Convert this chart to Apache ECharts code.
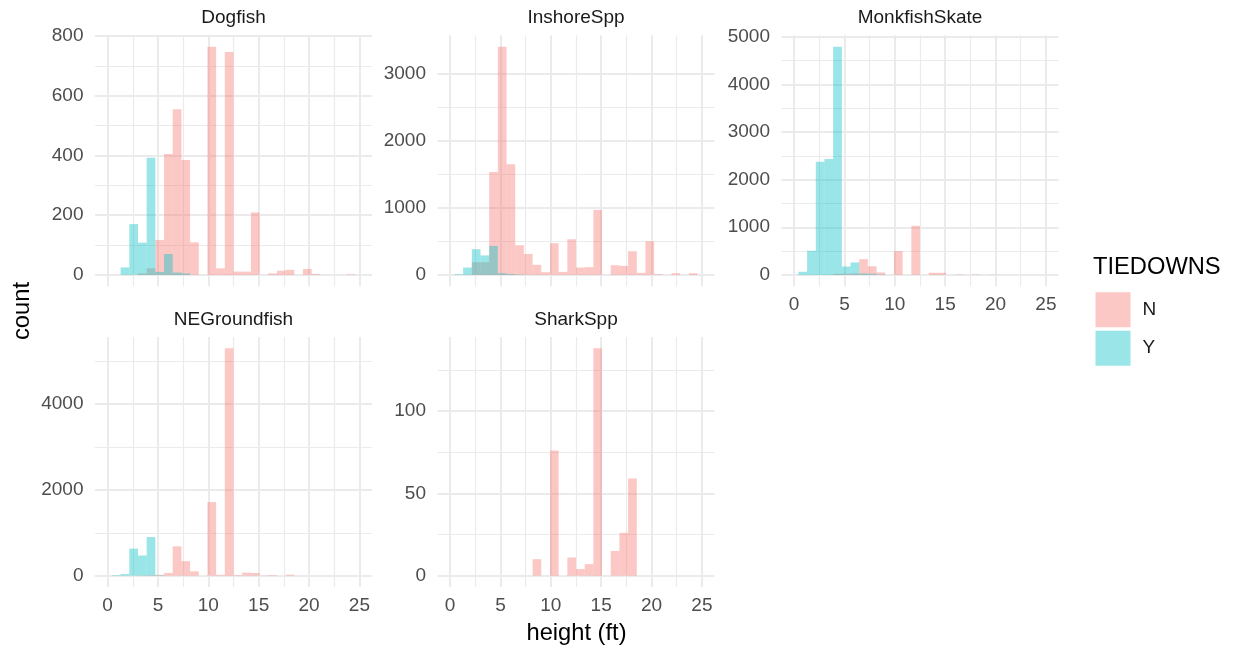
<!DOCTYPE html>
<html>
<head>
<meta charset="utf-8">
<script src="https://cdn.jsdelivr.net/npm/echarts@6.0.0/dist/echarts.min.js"></script>
<style>
  html, body { margin: 0; background: #fff; }
  #chart { width: 1238px; height: 654px; }
</style>
</head>
<body>
<div id="chart"></div>
<script>
// histogram bins: 30 bins over 0..25, first and last dropped by the x limits
const binWidth = 25 / 29;
const bins = [1, 2, 3, 4, 5, 6, 7, 8, 9, 10, 11, 12, 13, 14, 15, 16, 17, 18, 19, 20, 21, 22, 23, 24, 25, 26, 27, 28];

const panelNames = ['Dogfish', 'InshoreSpp', 'MonkfishSkate', 'NEGroundfish', 'SharkSpp'];

// counts per bin, TIEDOWNS = N / Y
const dogfishN = [0, 0, 0, 5, 22, 117, 405, 555, 385, 109, 0, 764, 22, 746, 11, 11, 209, 0, 5, 14, 17, 0, 20, 3, 0, 0, 0, 2];
const dogfishY = [0, 25, 170, 108, 392, 10, 70, 8, 5, 0, 0, 0, 0, 0, 0, 0, 0, 0, 0, 0, 0, 0, 0, 0, 0, 0, 0, 0];
const inshoreN = [0, 0, 188, 188, 1532, 3396, 1646, 441, 312, 150, 40, 471, 45, 530, 109, 115, 967, 0, 144, 134, 352, 30, 500, 10, 0, 25, 0, 25];
const inshoreY = [10, 109, 382, 290, 431, 25, 12, 5, 0, 0, 0, 0, 0, 0, 0, 0, 0, 0, 0, 0, 0, 0, 0, 0, 0, 0, 0, 0];
const monkfishN = [0, 0, 0, 0, 20, 25, 30, 330, 182, 52, 0, 500, 0, 1031, 0, 45, 45, 0, 8, 0, 8, 0, 5, 0, 0, 0, 0, 0];
const monkfishY = [66, 508, 2377, 2433, 4790, 176, 262, 30, 25, 5, 0, 0, 0, 0, 0, 0, 0, 0, 0, 0, 0, 0, 0, 0, 0, 0, 0, 0];
const groundfishN = [0, 0, 0, 5, 10, 20, 60, 684, 338, 100, 0, 1715, 20, 5300, 15, 70, 62, 5, 15, 0, 23, 0, 0, 0, 0, 0, 0, 0];
const groundfishY = [15, 38, 630, 469, 900, 10, 0, 0, 0, 0, 0, 0, 0, 0, 0, 0, 0, 0, 0, 0, 0, 0, 0, 0, 0, 0, 0, 0];
const sharkN = [0, 0, 0, 0, 0, 0, 0, 0, 0, 10, 0, 76, 0, 11, 4, 7, 138, 0, 15, 26, 59, 0, 0, 0, 0, 0, 0, 0];
const sharkY = [0, 0, 0, 0, 0, 0, 0, 0, 0, 0, 0, 0, 0, 0, 0, 0, 0, 0, 0, 0, 0, 0, 0, 0, 0, 0, 0, 0];

// tick labels
const xMajorTicks = [0, 5, 10, 15, 20, 25];
const xMinorTicks = [2.5, 7.5, 12.5, 17.5, 22.5];
const yMajorTicks = [
  [0, 200, 400, 600, 800],
  [0, 1000, 2000, 3000],
  [0, 1000, 2000, 3000, 4000, 5000],
  [0, 2000, 4000],
  [0, 50, 100]
];
const yMinorTicks = [
  [100, 300, 500, 700],
  [500, 1500, 2500],
  [500, 1500, 2500, 3500, 4500],
  [1000, 3000, 5000],
  [25, 75, 125]
];

const countsN = [dogfishN, inshoreN, monkfishN, groundfishN, sharkN];
const countsY = [dogfishY, inshoreY, monkfishY, groundfishY, sharkY];

// layout
const FONT = '"Liberation Sans", Arial, Helvetica, sans-serif';
const colN = 'rgba(248,118,109,0.4)';
const colY = 'rgba(0,191,196,0.4)';
const gridColor = '#EBEBEB';
const panelW = 277;
const boxes = [
  { left: 95, top: 35.3, height: 251, showX: false },
  { left: 437.5, top: 35.3, height: 251, showX: false },
  { left: 781.5, top: 35.3, height: 251, showX: true },
  { left: 95, top: 337, height: 250, showX: true },
  { left: 437.5, top: 337, height: 250, showX: true }
];

const chart = echarts.init(document.getElementById('chart'), null, { renderer: 'canvas' });

function renderBar(params, api) {
  const p0 = api.coord([api.value(0), 0]);
  const p1 = api.coord([api.value(1), api.value(2)]);
  return {
    type: 'rect',
    shape: { x: p0[0], y: p1[1], width: p1[0] - p0[0], height: p0[1] - p1[1] },
    style: api.style()
  };
}

function toBars(counts) {
  return counts
    .map((c, j) => [(bins[j] - 0.5) * binWidth, (bins[j] + 0.5) * binWidth, c])
    .filter(d => d[2] > 0);
}

const labelStyle = { color: '#4D4D4D', fontSize: 19, fontFamily: FONT };

const option = {
  animation: false,
  backgroundColor: '#fff',
  grid: [],
  xAxis: [],
  yAxis: [],
  series: [],
  graphic: [],
  legend: {
    data: [
      { name: 'N', itemStyle: { color: colN } },
      { name: 'Y', itemStyle: { color: colY } }
    ],
    orient: 'vertical',
    left: 1095.5,
    top: 292.3,
    itemWidth: 35,
    itemHeight: 35,
    itemGap: 3.4,
    icon: 'rect',
    selectedMode: false,
    padding: 0,
    textStyle: { fontSize: 19, color: '#1A1A1A', fontFamily: FONT, padding: [0, 0, 0, 7] }
  }
};

panelNames.forEach((name, i) => {
  const box = boxes[i];
  const peak = Math.max(...countsN[i], ...countsY[i]);
  const yMin = -0.05 * peak;
  const yMax = 1.05 * peak;

  option.grid.push({ left: box.left, top: box.top, width: panelW, height: box.height });

  // major + minor x
  option.xAxis.push({
    type: 'value', gridIndex: i, min: -1.25, max: 26.25,
    axisLine: { show: false },
    axisTick: { show: false, customValues: xMajorTicks },
    axisLabel: Object.assign({ show: box.showX, customValues: xMajorTicks, margin: 9, formatter: v => String(v) }, labelStyle),
    splitLine: { show: true, lineStyle: { color: gridColor, width: 2 } }
  });
  option.xAxis.push({
    type: 'value', gridIndex: i, min: -1.25, max: 26.25, position: 'bottom',
    axisLine: { show: false },
    axisTick: { show: false, customValues: xMinorTicks },
    axisLabel: { show: false },
    splitLine: { show: true, lineStyle: { color: gridColor, width: 1.2 } }
  });

  // major + minor y
  option.yAxis.push({
    type: 'value', gridIndex: i, min: yMin, max: yMax,
    axisLine: { show: false },
    axisTick: { show: false, customValues: yMajorTicks[i] },
    axisLabel: Object.assign({ customValues: yMajorTicks[i], margin: 11.5, formatter: v => String(v) }, labelStyle),
    splitLine: { show: true, lineStyle: { color: gridColor, width: 2 } }
  });
  option.yAxis.push({
    type: 'value', gridIndex: i, min: yMin, max: yMax, position: 'left',
    axisLine: { show: false },
    axisTick: { show: false, customValues: yMinorTicks[i] },
    axisLabel: { show: false },
    splitLine: { show: true, lineStyle: { color: gridColor, width: 1.2 } }
  });

  option.series.push({
    type: 'custom', name: 'N', xAxisIndex: 2 * i, yAxisIndex: 2 * i,
    renderItem: renderBar, encode: { x: [0, 1], y: 2 },
    itemStyle: { color: colN }, data: toBars(countsN[i])
  });
  option.series.push({
    type: 'custom', name: 'Y', xAxisIndex: 2 * i, yAxisIndex: 2 * i,
    renderItem: renderBar, encode: { x: [0, 1], y: 2 },
    itemStyle: { color: colY }, data: toBars(countsY[i])
  });

  // strip label
  option.graphic.push({
    type: 'text', x: box.left + panelW / 2, y: box.top - 17.5,
    style: { text: name, fill: '#1A1A1A', fontSize: 19, fontFamily: FONT, align: 'center', verticalAlign: 'middle' }
  });
});

option.graphic.push(
  {
    type: 'text', x: 22, y: 311, rotation: Math.PI / 2,
    style: { text: 'count', fill: '#000', fontSize: 23.7, fontFamily: FONT, align: 'center', verticalAlign: 'middle' }
  },
  {
    type: 'text', x: 576.5, y: 633,
    style: { text: 'height (ft)', fill: '#000', fontSize: 23.7, fontFamily: FONT, align: 'center', verticalAlign: 'middle' }
  },
  {
    type: 'text', x: 1093, y: 267,
    style: { text: 'TIEDOWNS', fill: '#000', fontSize: 23.7, fontFamily: FONT, align: 'left', verticalAlign: 'middle' }
  }
);

chart.setOption(option);
</script>
</body>
</html>
